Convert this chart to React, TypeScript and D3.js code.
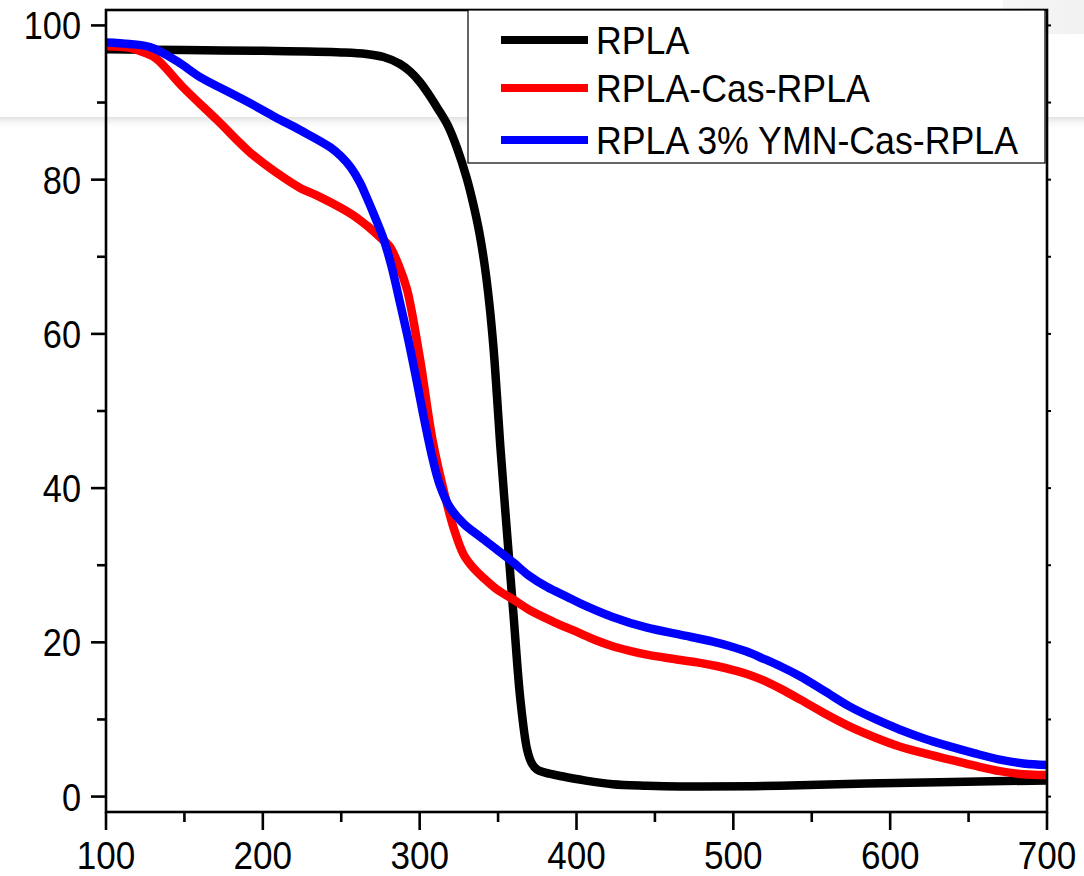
import React from "react";
import * as d3 from "d3";

const seriesNames = ["RPLA", "RPLA-Cas-RPLA", "RPLA 3% YMN-Cas-RPLA"];
const seriesColors = ["#000000", "#ff0000", "#0000ff"];

const rplaT = [100, 150, 200, 250, 266, 277, 287.5, 294, 300, 306, 311, 318, 324, 330, 334, 338, 341.5, 344.5, 347.2, 349.3, 351.4, 355.7, 359.9, 364.2, 368.5, 371.5, 374.8, 380, 391.5, 405, 423, 445, 466, 479, 530, 585, 640, 700];
const rplaW = [96.9, 96.8, 96.7, 96.5, 96.3, 95.9, 95.0, 94.0, 92.7, 91.0, 89.4, 87.0, 84.0, 80.2, 77.0, 73.2, 68.8, 63.8, 57.9, 51.9, 45.5, 34.2, 23.4, 12.6, 6.1, 4.3, 3.5, 3.1, 2.6, 2.1, 1.6, 1.4, 1.3, 1.3, 1.4, 1.7, 1.9, 2.1];

const casT = [100, 115, 124, 132, 149, 171, 192, 213, 224, 234, 256, 266, 276, 281, 287, 292, 300, 308.5, 317, 322, 328, 334, 341, 349, 360, 370, 385, 402, 412, 423, 434, 445, 460, 477, 490, 500, 510, 520, 530, 542.5, 558, 574, 590, 606, 622, 638, 654, 670, 685, 700];
const casW = [97.3, 97.1, 96.5, 95.7, 92.0, 87.7, 83.5, 80.3, 78.9, 78.0, 75.6, 74.1, 72.3, 71.3, 68.7, 65.7, 57.0, 45.9, 38.3, 34.6, 31.4, 29.7, 28.3, 26.9, 25.5, 24.2, 22.7, 21.2, 20.3, 19.5, 18.9, 18.4, 17.9, 17.4, 16.9, 16.4, 15.8, 15.0, 14.0, 12.6, 10.8, 9.1, 7.7, 6.5, 5.6, 4.8, 4.0, 3.3, 2.9, 2.8];

const ymnT = [100, 115, 128, 145, 160, 176, 192, 208, 224, 243, 250, 256, 262, 266, 271, 277, 282, 287.5, 293, 298, 303, 308.5, 313, 319, 328, 338.5, 350, 360, 370, 381, 394, 402, 423, 445, 466, 487, 498, 508.5, 519, 530, 542.5, 558, 574, 590, 606, 622, 638, 654, 670, 685, 700];
const ymnW = [97.8, 97.6, 97.2, 95.4, 93.3, 91.6, 89.9, 88.1, 86.4, 84.2, 83.0, 81.6, 79.6, 77.8, 75.4, 72.3, 68.8, 64.0, 59.0, 54.0, 48.8, 43.6, 40.3, 37.6, 35.4, 33.7, 31.9, 30.3, 28.6, 27.2, 25.9, 25.1, 23.3, 21.9, 21.0, 20.1, 19.5, 18.8, 17.9, 16.9, 15.6, 13.7, 11.7, 10.1, 8.7, 7.5, 6.5, 5.6, 4.8, 4.3, 4.1];

const xTicks = [100, 200, 300, 400, 500, 600, 700];
const xMinor = [150, 250, 350, 450, 550, 650];
const yTicks = [0, 20, 40, 60, 80, 100];
const yMinor = [10, 30, 50, 70, 90];

const W = 1084;
const H = 876;
const L = 106, R = 1047, T = 10, B = 812;

export default function App() {
  const x = d3.scaleLinear().domain([100, 700]).range([L, R]);
  const y = d3.scaleLinear().domain([-2, 102]).range([B, T]);
  const line = d3
    .line<[number, number]>()
    .x((d) => x(d[0]))
    .y((d) => y(d[1]))
    .curve(d3.curveCatmullRom.alpha(0.5));
  const series = [
    d3.zip(rplaT, rplaW) as [number, number][],
    d3.zip(casT, casW) as [number, number][],
    d3.zip(ymnT, ymnW) as [number, number][],
  ];
  const font = "'Liberation Sans', Arial, sans-serif";
  const legendRows = [40, 88, 140];
  return (
    <svg width={W} height={H} style={{ position: "absolute", left: 0, top: 0, display: "block" }}>
      <defs>
        <linearGradient id="band" x1="0" y1="0" x2="0" y2="1">
          <stop offset="0" stopColor="#e2e2e2" />
          <stop offset="1" stopColor="#ffffff" stopOpacity="0" />
        </linearGradient>
        <linearGradient id="corner" x1="0" y1="0" x2="1" y2="0">
          <stop offset="0" stopColor="#f7f7f7" />
          <stop offset="1" stopColor="#f1f1f1" />
        </linearGradient>
        <clipPath id="plot">
          <rect x={L} y={T} width={R - L} height={B - T} />
        </clipPath>
      </defs>
      <rect x={0} y={0} width={W} height={H} fill="#ffffff" />
      <rect x={1003} y={0} width={81} height={34} fill="url(#corner)" />
      <rect x={0} y={117} width={W} height={13} fill="url(#band)" />
      <g clipPath="url(#plot)">
        {series.map((s, i) => (
          <path key={i} d={line(s) || ""} fill="none" stroke={seriesColors[i]} strokeWidth={8.5} strokeLinejoin="round" />
        ))}
      </g>
      <rect x={L} y={T} width={R - L} height={B - T} fill="none" stroke="#000" strokeWidth={2.6} />
      {yTicks.map((v) => (
        <line key={"yt" + v} x1={L - 15} x2={L} y1={y(v)} y2={y(v)} stroke="#000" strokeWidth={2.6} />
      ))}
      {yMinor.map((v) => (
        <line key={"ym" + v} x1={L - 9} x2={L} y1={y(v)} y2={y(v)} stroke="#000" strokeWidth={2.6} />
      ))}
      {[...yTicks, ...yMinor].map((v) => (
        <line key={"yr" + v} x1={R} x2={R + 4} y1={y(v)} y2={y(v)} stroke="#000" strokeWidth={2} />
      ))}
      {yTicks.map((v) => (
        <text key={"yl" + v} transform={`translate(${L - 25},${y(v) + 14}) scale(0.88,1)`} textAnchor="end" fontFamily={font} fontSize={39} fill="#000">
          {v}
        </text>
      ))}
      {xTicks.map((v) => (
        <line key={"xt" + v} x1={x(v)} x2={x(v)} y1={B} y2={B + 18} stroke="#000" strokeWidth={2.6} />
      ))}
      {xMinor.map((v) => (
        <line key={"xm" + v} x1={x(v)} x2={x(v)} y1={B} y2={B + 10} stroke="#000" strokeWidth={2.6} />
      ))}
      {xTicks.map((v) => (
        <text key={"xl" + v} transform={`translate(${x(v)},869) scale(0.9,1)`} textAnchor="middle" fontFamily={font} fontSize={39} fill="#000">
          {v}
        </text>
      ))}
      <rect x={468} y={T} width={577} height={153} fill="#ffffff" stroke="#000" strokeWidth={1.2} />
      {seriesNames.map((n, i) => (
        <g key={n}>
          <line x1={501} x2={588} y1={legendRows[i]} y2={legendRows[i]} stroke={seriesColors[i]} strokeWidth={8} />
          <text transform={`translate(596,${legendRows[i] + 14}) scale(0.94,1)`} fontFamily={font} fontSize={38} fill="#000">
            {n}
          </text>
        </g>
      ))}
    </svg>
  );
}
